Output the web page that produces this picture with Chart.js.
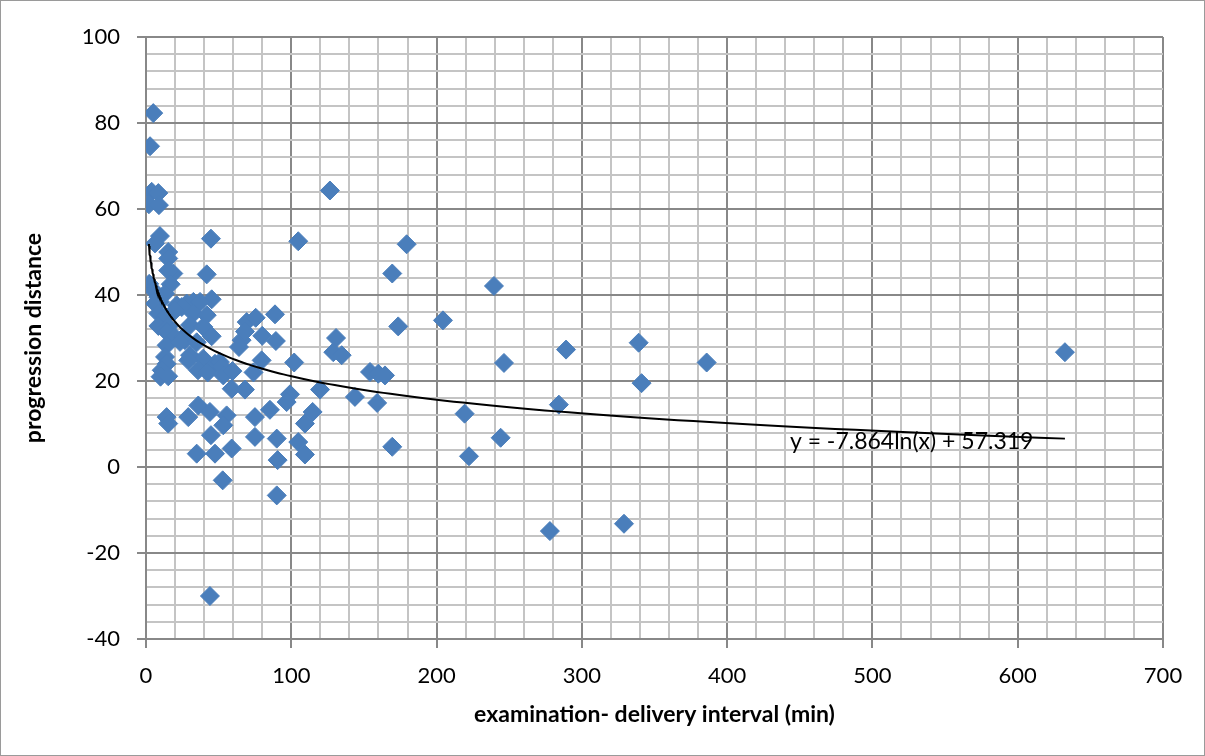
<!DOCTYPE html>
<html>
<head>
<meta charset="utf-8">
<script src="https://cdn.jsdelivr.net/npm/chart.js@4/dist/chart.umd.min.js"></script>
<style>
  body { margin: 0; background: #fff; }
  #wrap { width: 1205px; height: 756px; }
</style>
</head>
<body>
<div id="wrap"><canvas id="progressionChart" width="1205" height="756"></canvas></div>
<script>
// examination-delivery interval (min)
var intervalMin = [5, 2.8, 3.9, 8.5, 2, 8.9, 9.6, 6.2, 15.3, 15.3,
    18.8, 15.3, 2.2, 5, 8.5, 17, 41.8, 44.7, 9.6, 21.1,
    32.6, 45.2, 28, 37.2, 6.2, 24.6, 20, 8.5, 13.1, 32.6,
    41.8, 8.5, 15.3, 14.2, 30.3, 39.4, 45.2, 20, 25.7, 26.8,
    14.2, 23.4, 34.9, 30.3, 39.4, 29.1, 47.5, 50.9, 52.1, 13.1,
    14.2, 10.8, 10, 15.3, 35.8, 42.5, 53.2, 59.5, 74, 13.1,
    69.3, 75.5, 88.8, 65.8, 68.1, 80, 89.4, 64, 79.6, 102,
    59, 68.1, 99.1, 96.8, 36, 14.2, 15.3, 29.1, 44, 55.5,
    53.2, 75, 85.3, 44.7, 75, 90, 34.9, 47.5, 59, 90.6,
    104.8, 109.4, 52.8, 90, 44, 126.6, 104.8, 179.4, 169.5, 239.5,
    173.6, 204.4, 130.8, 128.9, 134.7, 154.2, 159.9, 164.5, 119.8, 143.8,
    159.1, 114.7, 109.4, 169.5, 219.3, 222.3, 289.1, 339.1, 246.4, 385.9,
    341.1, 284.2, 244.1, 278, 329, 632.5];

// progression distance
var progression = [82.3, 74.6, 64, 63.7, 61.1, 60.9, 53.7, 52, 50, 48.5,
    45, 45.7, 42.6, 41.1, 39.5, 42.5, 44.8, 53.1, 38.4, 37.6,
    38.4, 39, 38, 38.4, 38, 37.2, 36.4, 35.7, 34.9, 35.7,
    35.3, 32.8, 32.6, 31.4, 33, 32.6, 30.4, 30.2, 30.2, 29.5,
    28.3, 29.1, 29, 26, 25.2, 24.8, 24, 24.4, 23.3, 25.6,
    24, 22.5, 21, 21.1, 22.5, 22, 21.3, 22.3, 22, 40.3,
    33.7, 34.7, 35.5, 29.5, 31.5, 30.5, 29.3, 27.9, 24.8, 24.3,
    18.2, 18, 16.9, 15.1, 14.3, 11.6, 10.1, 11.6, 12.8, 12,
    9.7, 11.6, 13.3, 7.4, 7, 6.6, 3.1, 3.1, 4.3, 1.6,
    5.8, 2.9, -3.1, -6.6, -30, 64.3, 52.5, 51.8, 45, 42.1,
    32.7, 34.1, 30, 26.7, 26, 22.1, 21.7, 21.3, 18, 16.3,
    14.9, 12.8, 10.1, 4.7, 12.4, 2.5, 27.3, 28.9, 24.2, 24.3,
    19.5, 14.5, 6.8, -14.9, -13.2, 26.7];

// logarithmic trendline as printed on the chart
var trendA = -7.864;
var trendB = 57.319;
var trendLabel = 'y = -7.864ln(x) + 57.319';

var xTicks = [0, 100, 200, 300, 400, 500, 600, 700];
var yTicks = [-40, -20, 0, 20, 40, 60, 80, 100];

var scatterPoints = intervalMin.map(function (x, i) { return { x: x, y: progression[i] }; });

var xLo = Math.min.apply(null, intervalMin);
var xHi = Math.max.apply(null, intervalMin);
var trendPoints = [];
for (var k = 0; k <= 200; k++) {
    var tx = xLo * Math.pow(xHi / xLo, k / 200);
    trendPoints.push({ x: tx, y: trendA * Math.log(tx) + trendB });
}

var FONT = 'Lato, "Open Sans", sans-serif';
var MINOR = '#c4c4c4';
var MAJOR = '#888888';

var trendLabelPlugin = {
    id: 'trendLabel',
    afterDatasetsDraw: function (chart) {
        var ctx = chart.ctx;
        var xs = chart.scales.x, ys = chart.scales.y;
        ctx.save();
        ctx.font = '23px ' + FONT;
        ctx.fillStyle = '#000';
        ctx.textAlign = 'center';
        ctx.textBaseline = 'middle';
        ctx.fillText(trendLabel, xs.getPixelForValue(527), ys.getPixelForValue(6));
        ctx.restore();
    }
};

var framePlugin = {
    id: 'frame',
    afterDraw: function (chart) {
        var ctx = chart.ctx;
        ctx.save();
        ctx.strokeStyle = '#9a9a9a';
        ctx.lineWidth = 1;
        ctx.strokeRect(0.5, 0.5, chart.width - 1, chart.height - 1);
        ctx.restore();
    }
};

var progressionCtx = document.getElementById('progressionChart').getContext('2d');
var progressionChart = new Chart(progressionCtx, {
    type: 'scatter',
    data: {
        datasets: [
            {
                label: 'trend',
                type: 'line',
                data: trendPoints,
                borderColor: '#000',
                borderWidth: 2,
                pointRadius: 0,
                fill: false,
                order: 0
            },
            {
                label: 'progression distance',
                data: scatterPoints,
                pointStyle: 'rectRot',
                pointRadius: 9.5,
                pointHoverRadius: 9.5,
                backgroundColor: '#4a7ebb',
                borderColor: '#4a7ebb',
                borderWidth: 1,
                order: 1
            }
        ]
    },
    options: {
        responsive: false,
        animation: false,
        events: [],
        layout: { padding: { top: 37, right: 42, left: 0, bottom: 0 } },
        plugins: {
            legend: { display: false },
            tooltip: { enabled: false }
        },
        scales: {
            x: {
                type: 'linear',
                min: 0,
                max: 700,
                afterFit: function (s) { s.height = 117; },
                afterBuildTicks: function (s) {
                    var t = [];
                    for (var v = 0; v <= 700; v += 20) t.push({ value: v });
                    s.ticks = t;
                },
                ticks: {
                    font: { family: FONT, size: 22 },
                    color: '#000',
                    padding: 15,
                    maxRotation: 0,
                    autoSkip: false,
                    callback: function (v) { return xTicks.indexOf(v) >= 0 ? String(v) : ''; }
                },
                grid: {
                    lineWidth: 2,
                    tickLength: 9,
                    color: function (c) { return c.tick && c.tick.value % 100 === 0 ? MAJOR : MINOR; },
                    tickColor: function (c) { return c.tick && c.tick.value % 100 === 0 ? MAJOR : 'rgba(0,0,0,0)'; }
                },
                border: { color: MAJOR, width: 2 },
                title: {
                    display: true,
                    text: 'examination- delivery interval (min)',
                    font: { family: FONT, size: 23, weight: 'bold' },
                    color: '#000',
                    padding: { top: 0, bottom: 28 }
                }
            },
            y: {
                type: 'linear',
                min: -40,
                max: 100,
                afterFit: function (s) { s.width = 146; },
                afterBuildTicks: function (s) {
                    var t = [];
                    for (var v = -40; v <= 100; v += 4) t.push({ value: v });
                    s.ticks = t;
                },
                ticks: {
                    font: { family: FONT, size: 22 },
                    color: '#000',
                    padding: 17,
                    autoSkip: false,
                    callback: function (v) { return yTicks.indexOf(v) >= 0 ? String(v) : ''; }
                },
                grid: {
                    lineWidth: 2,
                    tickLength: 9,
                    color: function (c) { return c.tick && c.tick.value % 20 === 0 ? MAJOR : MINOR; },
                    tickColor: function (c) { return c.tick && c.tick.value % 20 === 0 ? MAJOR : 'rgba(0,0,0,0)'; }
                },
                border: { color: MAJOR, width: 2 },
                title: {
                    display: true,
                    text: 'progression distance',
                    font: { family: FONT, size: 23, weight: 'bold' },
                    color: '#000',
                    padding: { top: 20, bottom: 0 }
                }
            }
        }
    },
    plugins: [trendLabelPlugin, framePlugin]
});
</script>
</body>
</html>
